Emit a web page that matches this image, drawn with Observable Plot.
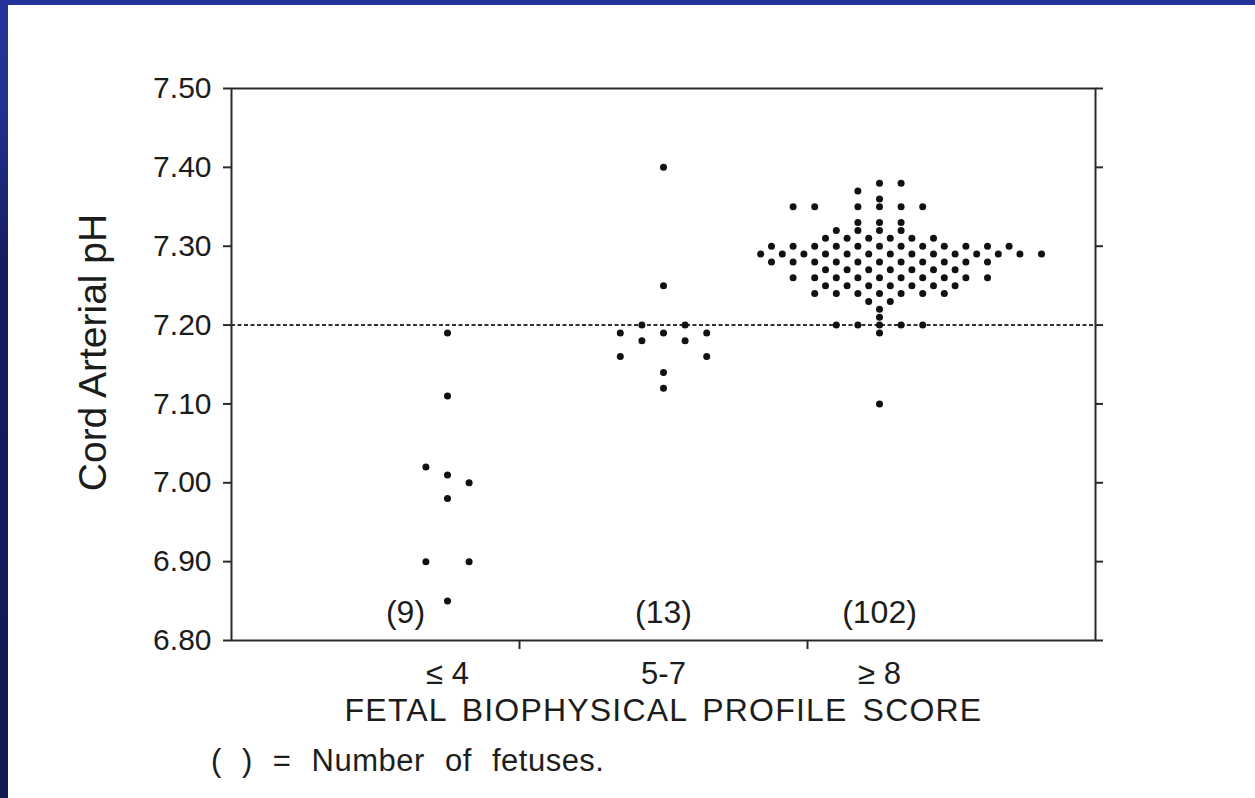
<!DOCTYPE html>
<html>
<head>
<meta charset="utf-8">
<script src="https://cdn.jsdelivr.net/npm/d3@7"></script>
<script src="https://cdn.jsdelivr.net/npm/@observablehq/plot@0.6"></script>
<style>
  html, body { margin: 0; padding: 0; }
  body {
    width: 1255px; height: 798px; overflow: hidden; position: relative;
    background: linear-gradient(to bottom, #25349c 0%, #22308f 14%, #161e62 32%, #121852 100%);
    font-family: "Liberation Sans", Arial, Helvetica, sans-serif;
  }
  #panel { position: absolute; left: 8px; top: 5px; width: 1247px; height: 793px; background: #fff; }
  #chart { position: absolute; left: 0; top: 0; }
  #caption {
    position: absolute; left: 203px; top: 740px; font-size: 31px; line-height: 1;
    color: #1e1e1e; word-spacing: 11px; letter-spacing: 0.5px; white-space: nowrap;
  }
</style>
</head>
<body>
<div id="panel">
  <div id="chart"></div>
  <div id="caption">( ) = Number of fetuses.</div>
</div>
<script>
// ---- data ----
const categories = ["≤ 4", "5-7", "≥ 8"];
const fetusCounts = [9, 13, 102];
const yTicks = [6.80, 6.90, 7.00, 7.10, 7.20, 7.30, 7.40, 7.50];
const thresholdPH = 7.20;
const xTitle = "FETAL BIOPHYSICAL PROFILE SCORE";
const yTitle = "Cord Arterial pH";

// each dot: [pH, column in the dot-plot grid (half-dot steps from the group centre)]
const scoreLow = [
  [7.19, 0], [7.11, 0], [7.02, -2], [7.01, 0], [7.00, 2],
  [6.98, 0], [6.90, -2], [6.90, 2], [6.85, 0]
];
const scoreMid = [
  [7.40, 0], [7.25, 0], [7.20, -2], [7.20, 2], [7.19, -4], [7.19, 0], [7.19, 4],
  [7.18, -2], [7.18, 2], [7.16, -4], [7.16, 4], [7.14, 0], [7.12, 0]
];
// rows of the ≥ 8 group: [pH, columns occupied at that pH]
const scoreHighRows = [
  [7.38, [0, 2]],
  [7.37, [-2]],
  [7.36, [0]],
  [7.35, [-8, -6, -2, 0, 2, 4]],
  [7.33, [-2, 0, 2]],
  [7.32, [-4, -2, 0, 2]],
  [7.31, [-5, -3, -1, 1, 3, 5]],
  [7.30, [-10, -8, -6, -4, -2, 0, 2, 4, 6, 8, 10, 12]],
  [7.29, [-11, -9, -7, -5, -3, -1, 1, 3, 5, 7, 9, 11, 13, 15]],
  [7.28, [-10, -8, -6, -4, -2, 0, 2, 4, 6, 8, 10]],
  [7.27, [-5, -3, -1, 1, 3, 5, 7]],
  [7.26, [-8, -6, -4, -2, 0, 2, 4, 6, 8, 10]],
  [7.25, [-5, -3, -1, 1, 3, 5, 7]],
  [7.24, [-6, -4, -2, 0, 2, 4, 6]],
  [7.23, [-1, 1]],
  [7.22, [0]],
  [7.21, [0]],
  [7.20, [-4, -2, 0, 2, 4]],
  [7.19, [0]],
  [7.10, [0]]
];

// ---- build tables ----
const scoreHigh = scoreHighRows.flatMap(([ph, cols]) => cols.map(c => [ph, c]));
const groups = [scoreLow, scoreMid, scoreHigh];
const dots = groups.flatMap((g, i) => g.map(([ph, col]) => ({group: i, ph, col})));
const countData = categories.map((c, i) => ({i, label: `(${fetusCounts[i]})`}));

const colStep = 0.05;            // one grid column in category units
const xDomain = [-1, 3];          // categories sit at 0, 1, 2
const dividers = [xDomain[0] + (xDomain[1] - xDomain[0]) / 3, xDomain[0] + 2 * (xDomain[1] - xDomain[0]) / 3];
const ink = "#1c1c1c";
const font = '"Liberation Sans", Arial, Helvetica, sans-serif';

const chart = Plot.plot({
  width: 1247,
  height: 725,
  marginLeft: 223,
  marginRight: 160,
  marginTop: 83,
  marginBottom: 90,
  x: {domain: xDomain},
  y: {domain: [yTicks[0], yTicks[yTicks.length - 1]]},
  style: {fontFamily: font, fontSize: "30px", color: ink, background: "transparent", overflow: "visible"},
  marks: [
    Plot.ruleY([thresholdPH], {stroke: "#333", strokeWidth: 2, strokeDasharray: "4,2.5"}),
    Plot.frame({stroke: "#2a2a2a", strokeWidth: 2}),
    Plot.axisY({ticks: yTicks, tickSize: 8, tickPadding: 12, tickFormat: d3.format(".2f"),
                label: null, fontSize: 30, strokeWidth: 2, stroke: "#2a2a2a", fill: ink}),
    Plot.axisY({anchor: "right", ticks: yTicks, tickSize: 7, tickFormat: () => "",
                label: null, strokeWidth: 2, stroke: "#2a2a2a"}),
    Plot.axisX({ticks: dividers, tickSize: 9, tickFormat: () => "", label: null,
                strokeWidth: 2, stroke: "#2a2a2a"}),
    Plot.axisX({ticks: [0, 1, 2], tickSize: 0, tickPadding: 21, tickFormat: i => categories[i],
                label: null, fontSize: 31, fill: ink}),
    Plot.dot(dots, {x: d => d.group + d.col * colStep, y: "ph", r: 3.5, fill: "#111", stroke: "none"}),
    Plot.text(countData.filter(d => d.i === 0), {x: "i", text: "label", frameAnchor: "bottom",
                lineAnchor: "middle", dy: -28, dx: -42, fontSize: 32, fill: ink}),
    Plot.text(countData.filter(d => d.i > 0), {x: "i", text: "label", frameAnchor: "bottom",
                lineAnchor: "middle", dy: -28, fontSize: 32, fill: ink}),
    Plot.text([xTitle], {text: d => d, frameAnchor: "bottom", lineAnchor: "middle", textAnchor: "middle",
                dy: 70, fontSize: 32, fill: ink}),
    Plot.text([yTitle], {text: d => d, frameAnchor: "left", rotate: -90, textAnchor: "middle",
                lineAnchor: "middle", dx: -138, dy: -12, fontSize: 39, fill: ink})
  ]
});
document.getElementById("chart").appendChild(chart);
// typewriter-like spacing of the axis title as in the scan
chart.querySelectorAll("text").forEach(t => {
  if (t.textContent === xTitle) { t.style.letterSpacing = "1.2px"; t.style.wordSpacing = "5px"; }
});
</script>
</body>
</html>
